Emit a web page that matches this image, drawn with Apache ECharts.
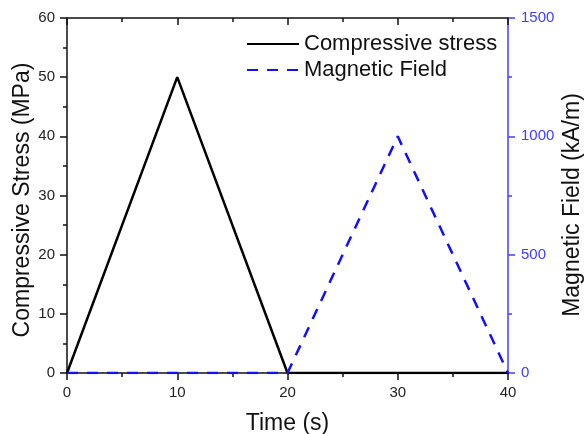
<!DOCTYPE html>
<html>
<head>
<meta charset="utf-8">
<script src="https://cdn.jsdelivr.net/npm/echarts@6/dist/echarts.min.js"></script>
<style>
  html, body { margin: 0; padding: 0; background: #fff; }
  #chart { width: 584px; height: 434px; }
</style>
</head>
<body>
<div id="chart"></div>
<script>
// data
const time = [0, 10, 20, 30, 40]
const stress = [0, 50, 0, 0, 0]
const field = [0, 0, 0, 1000, 0]

const font = 'Liberation Sans, Arial, sans-serif'
const blue = '#1010ff'
const axisBlue = '#4040ff'
const ink = '#111'

const tickStyle = (color) => ({ color: color, width: 1.5 })

const chart = echarts.init(document.getElementById('chart'), null, { renderer: 'canvas' })

const option = {
  animation: false,
  grid: { left: 67, right: 76, top: 18, bottom: 61, outerBoundsMode: 'none', containLabel: false },
  legend: {
    orient: 'vertical',
    left: 241,
    top: 28,
    itemWidth: 52,
    itemHeight: 14,
    itemGap: 4,
    itemStyle: { opacity: 0, borderWidth: 0 },
    textStyle: { fontFamily: font, fontSize: 22, color: ink },
    data: ['Compressive stress', 'Magnetic Field']
  },
  xAxis: [
    {
      type: 'value',
      min: 0, max: 40, interval: 10,
      name: 'Time (s)',
      nameLocation: 'middle',
      nameGap: 39,
      nameMoveOverlap: false,
      nameTextStyle: { fontFamily: font, fontSize: 23, color: ink },
      axisLine: { onZero: false, lineStyle: tickStyle(ink) },
      axisTick: { length: 7, lineStyle: tickStyle(ink) },
      minorTick: { show: true, splitNumber: 2, length: 4, lineStyle: tickStyle(ink) },
      axisLabel: { fontFamily: font, fontSize: 15, color: '#222', margin: 12 },
      splitLine: { show: false }
    },
    {
      type: 'value',
      position: 'top',
      min: 0, max: 40, interval: 10,
      axisLine: { show: true, onZero: false, lineStyle: tickStyle(ink) },
      axisTick: { show: true, inside: true, length: 7, lineStyle: tickStyle(ink) },
      minorTick: { show: true, splitNumber: 2, length: 4, lineStyle: tickStyle(ink) },
      axisLabel: { show: false },
      splitLine: { show: false }
    }
  ],
  yAxis: [
    {
      type: 'value',
      min: 0, max: 60, interval: 10,
      name: 'Compressive Stress (MPa)',
      nameLocation: 'middle',
      nameRotate: 90,
      nameGap: 33,
      nameMoveOverlap: false,
      nameTextStyle: { fontFamily: font, fontSize: 23, color: ink, padding: [0, 9, 0, 0] },
      axisLine: { show: true, onZero: false, lineStyle: tickStyle(ink) },
      axisTick: { length: 7, lineStyle: tickStyle(ink) },
      minorTick: { show: true, splitNumber: 2, length: 4, lineStyle: tickStyle(ink) },
      axisLabel: { fontFamily: font, fontSize: 15, color: '#222', margin: 12 },
      splitLine: { show: false }
    },
    {
      type: 'value',
      position: 'right',
      min: 0, max: 1500, interval: 500,
      name: 'Magnetic Field (kA/m)',
      nameLocation: 'middle',
      nameRotate: 90,
      nameGap: 53,
      nameMoveOverlap: false,
      nameTextStyle: { fontFamily: font, fontSize: 23, color: ink, padding: [0, 19, 0, 0] },
      axisLine: { show: true, onZero: false, lineStyle: tickStyle(axisBlue) },
      axisTick: { length: 7, lineStyle: tickStyle(axisBlue) },
      minorTick: { show: true, splitNumber: 2, length: 4, lineStyle: tickStyle(axisBlue) },
      axisLabel: { fontFamily: font, fontSize: 15, color: axisBlue, margin: 13, formatter: (v) => String(v) },
      splitLine: { show: false }
    }
  ],
  series: [
    {
      name: 'Compressive stress',
      type: 'line',
      xAxisIndex: 0,
      yAxisIndex: 0,
      data: time.map((t, i) => [t, stress[i]]),
      symbol: 'none',
      itemStyle: { color: '#000' },
      lineStyle: { color: '#000', width: 2.5 }
    },
    {
      name: 'Magnetic Field',
      type: 'line',
      xAxisIndex: 0,
      yAxisIndex: 1,
      data: time.map((t, i) => [t, field[i]]),
      symbol: 'none',
      itemStyle: { color: blue },
      lineStyle: { color: blue, width: 2.5, type: [11, 9] },
      z: 3
    }
  ]
}

chart.setOption(option)
</script>
</body>
</html>
